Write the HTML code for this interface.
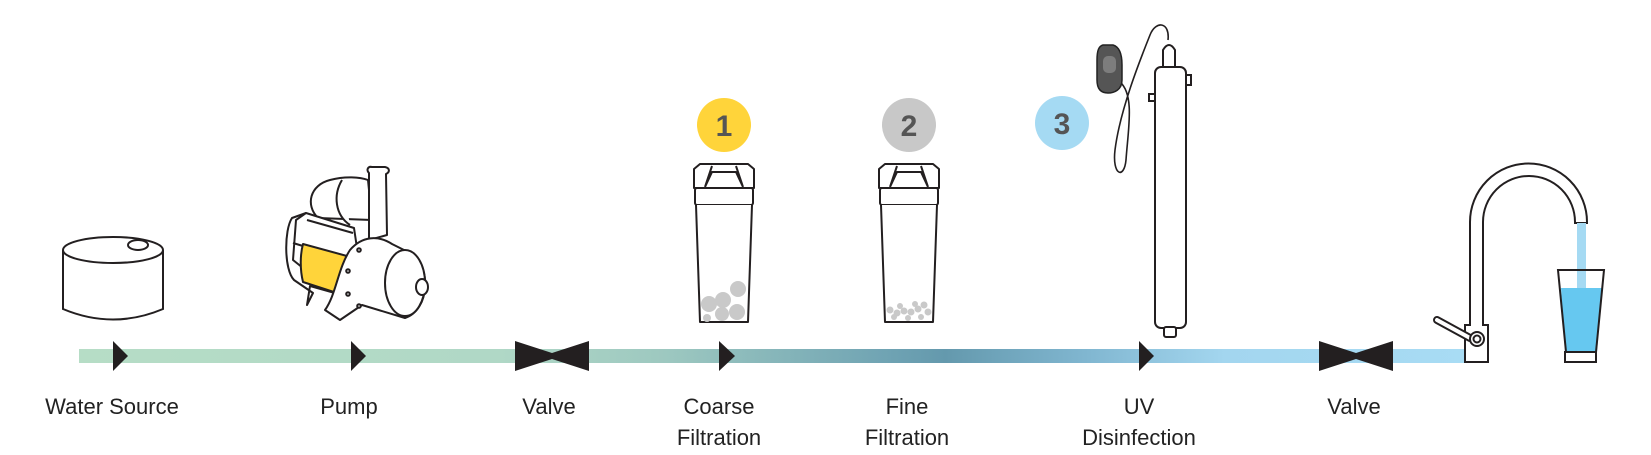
<!DOCTYPE html>
<html><head><meta charset="utf-8"><style>
html,body{margin:0;padding:0;background:#fff;}
svg{display:block;}
text{font-family:"Liberation Sans",sans-serif;font-size:22px;fill:#222;text-anchor:middle;}
</style></head><body>
<svg width="1651" height="455" viewBox="0 0 1651 455" xmlns="http://www.w3.org/2000/svg">
<defs>
<linearGradient id="pg" x1="79" y1="0" x2="1476" y2="0" gradientUnits="userSpaceOnUse">
<stop offset="0" stop-color="#b6ddc6"/>
<stop offset="0.3" stop-color="#b0d8c6"/>
<stop offset="0.42" stop-color="#9dc8c0"/>
<stop offset="0.58" stop-color="#6fa3b3"/>
<stop offset="0.62" stop-color="#6499ad"/>
<stop offset="0.72" stop-color="#80b6d0"/>
<stop offset="0.82" stop-color="#a3d6ef"/>
<stop offset="1" stop-color="#a8dcf4"/>
</linearGradient>
</defs>
<!-- pipe -->
<rect x="79" y="349" width="1398" height="14" fill="url(#pg)"/>
<!-- arrows -->
<g fill="#231f20">
<polygon points="113,341 128,356 113,371"/>
<polygon points="351,341 366,356 351,371"/>
<polygon points="719,341 735,356 719,371"/>
<polygon points="1139,341 1154,356 1139,371"/>
<polygon points="515,341 552,353 589,341 589,371 552,359 515,371"/>
<polygon points="1319,341 1356,353 1393,341 1393,371 1356,359 1319,371"/>
</g>
<!-- labels -->
<text x="112" y="414">Water Source</text>
<text x="349" y="414">Pump</text>
<text x="549" y="414">Valve</text>
<text x="719" y="414">Coarse</text>
<text x="719" y="445">Filtration</text>
<text x="907" y="414">Fine</text>
<text x="907" y="445">Filtration</text>
<text x="1139" y="414">UV</text>
<text x="1139" y="445">Disinfection</text>
<text x="1354" y="414">Valve</text>
<!-- tank -->
<g fill="#fff" stroke="#231f20" stroke-width="2">
<path d="M63,250 L63,309 Q113,330 163,309 L163,250"/>
<ellipse cx="113" cy="250" rx="50" ry="13"/>
<ellipse cx="138" cy="245" rx="10" ry="5"/>
</g>
<!-- pump -->
<g fill="#fff" stroke="#231f20" stroke-width="2" stroke-linejoin="round">
<path d="M318,218 C305,205 310,185 330,180 C345,176 360,177 368,180 L372,220 Z"/>
<path d="M342,180 C333,195 335,215 350,225"/>
<path d="M369,240 L369,173 C366,170 368,166 372,167 L385,167 C390,168 390,172 386,174 L387,235 Z"/>
<path d="M292,218 L306,213 L354,228 L357,248 L349,297 L310,286 L307,305 L313,293 L294,280 C284,270 284,230 292,218 Z"/>
<path d="M306,213 L296,220 L293,260 L303,268 M307,220 L353,233 M293,243 L303,246"/>
<path d="M303,244 L347,256 L340,294 L303,282 C300,270 300,255 303,244 Z" fill="#ffd43a"/>
<path d="M325,310 L340,320 L362,305 L405,318 C430,310 432,265 410,253 L392,244 C378,235 362,236 350,250 C338,268 336,295 325,310 Z"/>
<ellipse cx="405" cy="283" rx="20" ry="33"/>
<ellipse cx="422" cy="287" rx="6" ry="8"/>
<circle cx="359" cy="250" r="1.8"/><circle cx="348" cy="271" r="1.8"/><circle cx="348" cy="294" r="1.8"/><circle cx="359" cy="306" r="1.8"/>
</g>
<!-- badges -->
<circle cx="724" cy="125" r="27" fill="#ffd43a"/>
<circle cx="909" cy="125" r="27" fill="#c8c8c8"/>
<circle cx="1062" cy="123" r="27" fill="#a5daf3"/>
<g style="font-family:'Liberation Sans',sans-serif;font-weight:bold;font-size:30px;fill:#555;text-anchor:middle">
<text x="724" y="136" style="font-weight:bold;font-size:30px;fill:#555">1</text>
<text x="909" y="136" style="font-weight:bold;font-size:30px;fill:#555">2</text>
<text x="1062" y="134" style="font-weight:bold;font-size:30px;fill:#555">3</text>
</g>
<!-- filters -->
<g id="f1" fill="#fff" stroke="#231f20" stroke-width="2" stroke-linejoin="round">
<path d="M694,169 L700,164 L718,164 L730,164 L748,164 L754,169 L754,188 L694,188 Z"/>
<path d="M705,187 L712,172 L736,172 L743,187 M712,166 L705,187 M736,166 L743,187"/>
<rect x="695" y="188" width="58" height="17" rx="2"/>
<path d="M696,205 L700,322 L748,322 L752,205"/>
</g>
<g fill="#c9c9c9">
<circle cx="709" cy="304" r="8"/><circle cx="723" cy="300" r="8"/><circle cx="738" cy="289" r="8"/><circle cx="722" cy="314" r="7"/><circle cx="737" cy="312" r="8"/><circle cx="707" cy="318" r="4"/>
</g>
<use href="#f1" x="185"/>
<g fill="#c9c9c9">
<circle cx="890" cy="310" r="3.5"/><circle cx="897" cy="313" r="3.5"/><circle cx="904" cy="311" r="3.5"/><circle cx="911" cy="312" r="3.5"/><circle cx="918" cy="309" r="3.5"/><circle cx="924" cy="305" r="3.5"/><circle cx="928" cy="312" r="3.5"/><circle cx="894" cy="317" r="3"/><circle cx="908" cy="318" r="3"/><circle cx="921" cy="317" r="3"/><circle cx="915" cy="304" r="3"/><circle cx="900" cy="306" r="3"/>
</g>
<!-- UV -->
<g fill="none" stroke="#231f20" stroke-width="1.6">
<path d="M1120,82 C1135,95 1128,130 1126,160 C1124,180 1112,175 1115,150 C1120,110 1140,60 1150,35 C1156,20 1170,22 1168,40"/>
</g>
<g fill="#fff" stroke="#231f20" stroke-width="2">
<path d="M1163,67 L1163,50 Q1169,40 1175,50 L1175,67 Z"/>
<rect x="1155" y="67" width="31" height="261" rx="6"/>
<rect x="1164" y="327" width="12" height="10" rx="2"/>
<rect x="1149" y="94" width="6" height="7"/>
<rect x="1186" y="75" width="5" height="10"/>
</g>
<path d="M1103,45 L1113,45 C1120,47 1122,55 1122,65 L1122,80 C1122,90 1114,93 1108,93 C1100,93 1097,88 1097,80 L1097,60 C1097,50 1099,46 1103,45 Z" fill="#555" stroke="#222" stroke-width="1.5"/>
<rect x="1103" y="56" width="13" height="17" rx="5" fill="#7d7d7d"/>
<!-- faucet -->
<g fill="#fff" stroke="#231f20" stroke-width="2">
<path d="M1470,325 L1470,222 A58,58 0 0 1 1587,222 L1587,223 L1575,223 L1575,222 A46,46 0 0 0 1483,222 L1483,325 L1488,325 L1488,362 L1465,362 L1465,325 Z"/>
<path d="M1437,320 L1470,338" stroke-width="8" stroke-linecap="round"/>
<path d="M1437,320 L1470,338" stroke="#fff" stroke-width="4" stroke-linecap="round"/>
<circle cx="1477" cy="339" r="7"/>
<circle cx="1477" cy="339" r="3.5"/>
</g>
<rect x="1577" y="223" width="9" height="67" fill="#a5daf3"/>
<polygon points="1561,288 1602,288 1597,352 1565,352" fill="#66c8f0"/>
<path d="M1558,270 L1604,270 L1596,352 L1566,352 Z" fill="none" stroke="#231f20" stroke-width="2"/>
<rect x="1565" y="352" width="31" height="10" fill="#fff" stroke="#231f20" stroke-width="2"/>
</svg>
</body></html>
